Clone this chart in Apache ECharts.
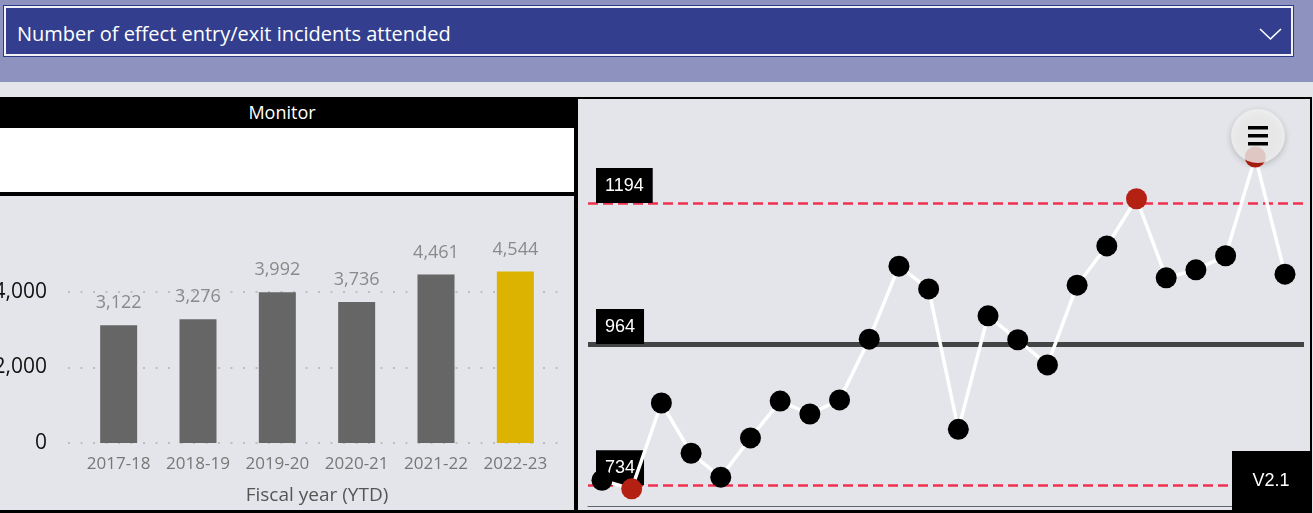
<!DOCTYPE html>
<html>
<head>
<meta charset="utf-8">
<script src="https://cdn.jsdelivr.net/npm/echarts@6/dist/echarts.min.js"></script>
<style>
  html, body { margin: 0; padding: 0; width: 1313px; height: 513px; overflow: hidden; background: #e4e5ea; font-family: "Open Sans", "Noto Sans", sans-serif; }
  .abs { position: absolute; box-sizing: border-box; }
  #topband { left: 0; top: 0; width: 1313px; height: 82px; background: #8d92bf; }
  #dropdown { left: 4px; top: 6px; width: 1289px; height: 50px; background: #333f8e; border: 2px solid #f2f2f8; box-shadow: 0 0 0 1px #2e3a88; }
  #ddtext { left: 11px; top: 12px; color: #fff; font-size: 20px; white-space: nowrap; }
  #chev { left: 1252px; top: 19px; }
  #monitor { left: 0; top: 97px; width: 576px; height: 31px; background: #000; }
  #montext { left: 0; top: 0; width: 564px; height: 31px; color: #fff; font-size: 18px; text-align: center; line-height: 31px; }
  #whitebox { left: 0; top: 128px; width: 574px; height: 64px; background: #fff; }
  #blackline { left: 0; top: 192px; width: 576px; height: 4px; background: #000; }
  #sep { left: 574px; top: 97px; width: 4px; height: 416px; background: #000; }
  #rightpanel { left: 576px; top: 97px; width: 736px; height: 416px; border: 2px solid #000; border-bottom-width: 3px; }
  #bottomline { left: 0; top: 510px; width: 578px; height: 3px; background: #000; }
  #chart { left: 0; top: 0; width: 1313px; height: 513px; }
</style>
</head>
<body>
<div class="abs" id="topband"></div>
<div class="abs" id="dropdown">
  <div class="abs" id="ddtext">Number of effect entry/exit incidents attended</div>
  <svg class="abs" id="chev" width="26" height="14" viewBox="0 0 26 14"><polyline points="2,2 12.5,12 23,2" fill="none" stroke="#ffffff" stroke-width="1.6"/></svg>
</div>
<div class="abs" id="monitor"><div class="abs" id="montext">Monitor</div></div>
<div class="abs" id="whitebox"></div>
<div class="abs" id="blackline"></div>
<div class="abs" id="sep"></div>
<div class="abs" id="rightpanel"></div>
<div class="abs" id="bottomline"></div>
<div class="abs" id="chart"></div>
<script>
// ---- data ----
const fiscalYears = ['2017-18', '2018-19', '2019-20', '2020-21', '2021-22', '2022-23'];
const incidentsPerYear = [3122, 3276, 3992, 3736, 4461, 4544];
const barAxisTicks = [0, 2000, 4000];
const periodIncidents = [742, 728, 868, 786, 747, 811, 871, 850, 873, 972, 1091, 1054, 825, 1010, 971, 930, 1060, 1124, 1201, 1072, 1085, 1108, 1269, 1078];
const upperLimit = 1194;
const meanLine = 964;
const lowerLimit = 734;
const versionLabel = 'V2.1';

const fmt = v => Number(v).toLocaleString('en-US');
const chart = echarts.init(document.getElementById('chart'), null, { renderer: 'canvas' });

const limitLabel = {
  show: true,
  position: 'insideStartTop',
  distance: [8, 0],
  color: '#fff',
  backgroundColor: '#000',
  fontFamily: '"Liberation Sans", Arial, sans-serif',
  fontSize: 18,
  lineHeight: 20,
  padding: [8, 9, 7, 9],
  formatter: p => String(p.value)
};

chart.setOption({
  backgroundColor: 'transparent',
  animation: false,
  textStyle: { fontFamily: '"Open Sans", "Noto Sans", sans-serif' },
  grid: [
    { left: 68, width: 494, top: 216.5, height: 226.5, outerBoundsMode: 'none', containLabel: false },
    { left: 79, width: 476, top: 216.5, height: 226.5, outerBoundsMode: 'none', containLabel: false },
    { left: 588, width: 716, top: 138, height: 368, outerBoundsMode: 'none', containLabel: false }
  ],
  xAxis: [
    { gridIndex: 0, type: 'category', data: fiscalYears, show: false },
    {
      gridIndex: 1, type: 'category', data: fiscalYears,
      axisLine: { show: false }, axisTick: { show: false },
      axisLabel: { color: '#777', fontSize: 17, margin: 13, interval: 0, hideOverlap: false },
      name: 'Fiscal year (YTD)', nameLocation: 'middle', nameGap: 43,
      nameTextStyle: { color: '#555', fontSize: 19 }
    },
    {
      gridIndex: 2, type: 'value', min: -0.471, max: 23.64,
      axisLine: { show: true, lineStyle: { color: '#5f666e', width: 1.2 } },
      axisTick: { show: false }, axisLabel: { show: false }, splitLine: { show: false }
    }
  ],
  yAxis: [
    {
      gridIndex: 0, type: 'value', min: 0, max: 6000, interval: 2000,
      axisLine: { show: false }, axisTick: { show: false },
      axisLabel: { color: '#111', fontSize: 21, margin: 21, showMaxLabel: false,
        formatter: v => barAxisTicks.includes(v) ? fmt(v) : '' },
      splitLine: { show: true, showMaxLine: false, lineStyle: { color: '#bdbdc2', width: 2, type: [2, 10.5] } }
    },
    { gridIndex: 1, type: 'value', min: 0, max: 6000, show: false },
    { gridIndex: 2, type: 'value', min: 700, max: 1300, show: false }
  ],
  series: [
    {
      type: 'bar', xAxisIndex: 1, yAxisIndex: 1,
      data: incidentsPerYear, barWidth: 37,
      itemStyle: { color: p => p.dataIndex === fiscalYears.length - 1 ? '#dbb300' : '#666666' },
      label: { show: true, position: 'top', distance: 13, color: '#8a8a8a', fontSize: 18, formatter: p => fmt(p.value) }
    },
    {
      type: 'line', xAxisIndex: 2, yAxisIndex: 2,
      data: periodIncidents.map((v, i) => [i, v]),
      lineStyle: { color: '#ffffff', width: 3.5 },
      symbol: 'circle', symbolSize: 21,
      itemStyle: { color: p => (p.value[1] > upperLimit || p.value[1] < lowerLimit) ? '#b42112' : '#000000' },
      clip: false,
      z: 3,
      markLine: {
        silent: true, symbol: 'none', z: 2,
        data: [
          { yAxis: upperLimit, lineStyle: { color: '#f0304f', width: 2.5, type: [10, 5] }, label: limitLabel },
          { yAxis: meanLine, lineStyle: { color: '#444444', width: 5, type: 'solid' }, label: limitLabel },
          { yAxis: lowerLimit, lineStyle: { color: '#f0304f', width: 2.5, type: [10, 5] }, label: limitLabel }
        ]
      }
    }
  ],
  graphic: [
    { type: 'rect', z: 100, shape: { x: 1232, y: 451, width: 78, height: 60 }, style: { fill: '#000' } },
    { type: 'text', z: 101, x: 1271, y: 481, style: { text: versionLabel, fill: '#fff', font: '18px "Liberation Sans", Arial, sans-serif', align: 'center', verticalAlign: 'middle' } },
    { type: 'circle', z: 100, shape: { cx: 1258, cy: 136, r: 27 }, style: { fill: 'rgba(242,242,242,0.8)', shadowBlur: 6, shadowOffsetY: 2, shadowColor: 'rgba(0,0,0,0.25)' } },
    { type: 'rect', z: 101, shape: { x: 1248, y: 126, width: 20, height: 3.5 }, style: { fill: '#000' } },
    { type: 'rect', z: 101, shape: { x: 1248, y: 134, width: 20, height: 3.5 }, style: { fill: '#000' } },
    { type: 'rect', z: 101, shape: { x: 1248, y: 142, width: 20, height: 3.5 }, style: { fill: '#000' } }
  ]
});
</script>
</body>
</html>
